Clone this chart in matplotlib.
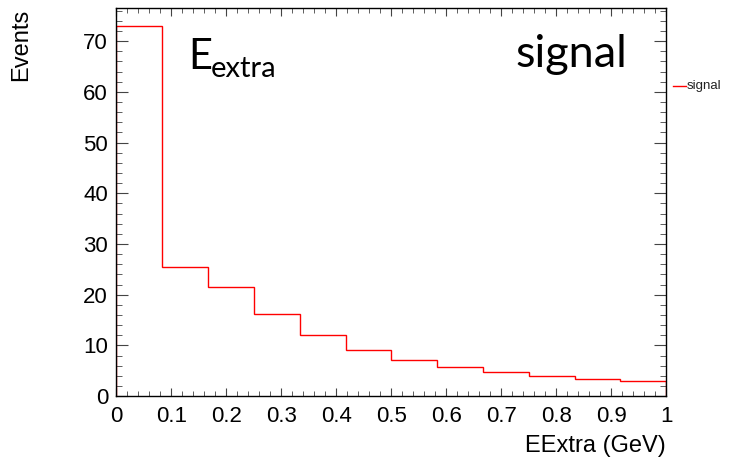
import numpy as np
import matplotlib
matplotlib.use("Agg")
import matplotlib.pyplot as plt
from matplotlib.ticker import MultipleLocator, FuncFormatter
from matplotlib.lines import Line2D

# EExtra histogram for the signal sample, 12 bins between 0 and 1 GeV
counts = [73.0, 25.4, 21.6, 16.1, 12.0, 9.1, 7.2, 5.7, 4.8, 3.9, 3.3, 2.9]
x_min, x_max = 0.0, 1.0
y_max = 76.5
sample_name = "signal"
x_title = "EExtra (GeV)"
y_title = "Events"

plt.rcParams['font.family'] = ['Liberation Sans', 'DejaVu Sans']

fig = plt.figure(figsize=(7.37, 4.59), dpi=100)
ax = fig.add_axes([0.158, 0.137, 0.746, 0.845])

edges = np.linspace(x_min, x_max, len(counts) + 1)
ax.stairs(counts, edges, color='red', linewidth=1.0, baseline=0)

ax.set_xlim(x_min, x_max)
ax.set_ylim(0, y_max)

# ROOT-like ticks: inward on all four sides
ax.xaxis.set_major_locator(MultipleLocator(0.1))
ax.xaxis.set_minor_locator(MultipleLocator(0.02))
ax.yaxis.set_major_locator(MultipleLocator(10))
ax.yaxis.set_minor_locator(MultipleLocator(2))
ax.xaxis.set_major_formatter(FuncFormatter(lambda v, p: "%g" % round(v, 2)))
ax.yaxis.set_major_formatter(FuncFormatter(lambda v, p: "%g" % v))
ax.tick_params(which='both', direction='in', top=True, right=True,
               color='#444444', labelsize=16)
ax.tick_params(axis='x', which='major', length=6, pad=7)
ax.tick_params(axis='x', which='minor', length=3.5)
ax.tick_params(axis='y', which='major', length=8.5, pad=6)
ax.tick_params(axis='y', which='minor', length=4.5)
for s in ax.spines.values():
    s.set_linewidth(1.0)

ax.set_xlabel(x_title, fontsize=17, loc='right', labelpad=6)
ax.set_ylabel(y_title, fontsize=17, loc='top', labelpad=37)

# big labels inside the frame
big_font = ['Lato', 'DejaVu Sans']
fig.text(188 / 737, 1 - 69 / 459, "E", fontsize=30, family=big_font, va='baseline')
fig.text(211 / 737, 1 - 77 / 459, "extra", fontsize=21, family=big_font, va='baseline')
fig.text(515 / 737, 1 - 67 / 459, sample_name, fontsize=32.5, family=big_font, va='baseline')

# legend entry outside the frame
fig.add_artist(Line2D([673 / 737, 686 / 737], [1 - 86 / 459, 1 - 86 / 459],
                      color='red', linewidth=1.0))
fig.text(687 / 737, 1 - 86 / 459, sample_name, fontsize=9.5, va='center', color='#222222')

fig.savefig("out.png", dpi=100)
